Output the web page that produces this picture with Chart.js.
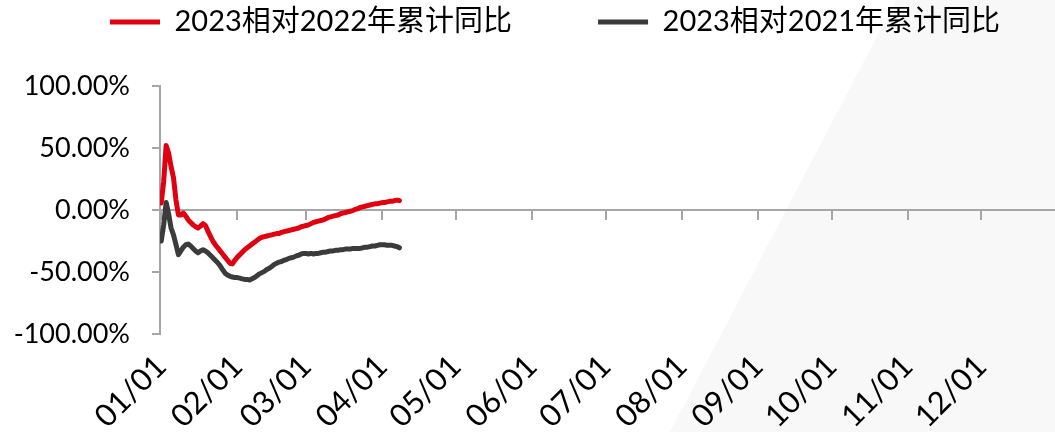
<!DOCTYPE html>
<html>
<head>
<meta charset="utf-8">
<script src="https://cdn.jsdelivr.net/npm/chart.js@4/dist/chart.umd.min.js"></script>
<style>
  html, body { margin: 0; padding: 0; background: #fff; }
  #wrap { width: 1055px; height: 432px; position: relative; }
  #fontwarm { position: absolute; left: -9999px; top: 0; font: 27px Lato, "Noto Sans CJK SC", sans-serif; }
</style>
</head>
<body>
<div id="wrap"><canvas id="ytdChart"></canvas></div>
<span id="fontwarm">-100.00% 01/01 2023相对2022年累计同比</span>
<script>
// series names
const seriesNames = ['2023相对2022年累计同比', '2023相对2021年累计同比'];

// month ticks (day of year) and their labels
const monthStarts = [0, 31, 59, 90, 120, 151, 181, 212, 243, 273, 304, 334];
const monthLabels = ['01/01', '02/01', '03/01', '04/01', '05/01', '06/01',
                     '07/01', '08/01', '09/01', '10/01', '11/01', '12/01'];

// y ticks, percent
const yTicks = [-100, -50, 0, 50, 100];

// daily values from 01/01, in %
const vs2022 = [
    5.6, 23, 52, 46, 35, 26, 8, -4, -4, -2.5,
    -5, -8, -10, -12, -13.5, -14.5, -13, -11, -12.5, -17,
    -21, -25, -28, -30.5, -33, -35.5, -38, -40.5, -43, -43.5,
    -40.5, -38, -36, -34, -32, -30.5, -29, -27.5, -26, -24.5,
    -23, -22, -21.5, -21, -20.5, -20, -19.5, -19, -19, -18,
    -17.5, -17, -16.5, -16, -15.5, -15, -14.5, -13.5, -13, -12.5,
    -12, -11, -10, -9.5, -9, -8.5, -8, -7, -6, -5.5,
    -5, -4.5, -4, -3, -2.5, -2, -1.5, -1, -0.5, 0.5,
    1, 2, 2.5, 3, 3.5, 4, 4.5, 5, 5, 5.5,
    6, 6, 6.5, 7, 7, 7.5, 8, 7.5
];
const vs2021 = [
    -25, -12, 6, -3, -14.5, -20, -28, -36, -33, -30,
    -28, -27.5, -29, -31, -33, -34.5, -33, -32, -33, -34.5,
    -36.5, -38.5, -40.5, -42.5, -45, -48, -51, -52.5, -53.5, -54,
    -54.5, -54.5, -55, -55.5, -56, -56, -56.5, -55.5, -54.5, -53,
    -51.5, -50.5, -49.5, -48, -47, -45.5, -44, -43, -42, -41.5,
    -40.5, -40, -39, -38.5, -38, -37, -36.5, -35.5, -35, -35,
    -35.5, -35, -35.5, -35, -35, -34.5, -34, -34, -33.5, -33,
    -33, -32.5, -32.5, -32, -32, -31.5, -31.5, -31.5, -31, -31,
    -31, -31, -30.5, -30, -30, -29.5, -29, -29, -28.5, -28,
    -28, -28, -28.5, -28.5, -28.5, -29, -29.5, -30.5
];

const RED = '#e0000f';
const DARK = '#3b3b3b';
const AXIS = '#a6a6a6';
const FONT = 'Lato, "Noto Sans CJK SC", sans-serif';

function toPoints(values) {
    return values.map((v, i) => ({ x: i, y: v }));
}

function setMonthTicks(scale) {
    scale.ticks = monthStarts.map(v => ({ value: v }));
}

// faint diagonal panel on the right of the picture
const backdrop = {
    id: 'backdrop',
    beforeDraw(chart) {
        const ctx = chart.ctx;
        ctx.save();
        ctx.fillStyle = '#f8f8f8';
        ctx.beginPath();
        ctx.moveTo(896, 0);
        ctx.lineTo(chart.width, 0);
        ctx.lineTo(chart.width, chart.height);
        ctx.lineTo(670, chart.height);
        ctx.closePath();
        ctx.fill();
        ctx.restore();
    }
};

// legend: one row with wide gaps, chart area starting lower
const legendSpacer = {
    id: 'legendSpacer',
    beforeInit(chart) {
        const fit = chart.legend.fit;
        chart.legend.fit = function () {
            const mw = this.maxWidth;
            this.maxWidth = 4000;
            fit.call(this);
            this.maxWidth = mw;
            this.width = mw;
            this.height = 164.5;
        };
    },
    afterLayout(chart) {
        chart.legend.left = 24;
        chart.legend.right = 3000;
    }
};

function drawChart() {
    Chart.defaults.font.family = FONT;
    Chart.defaults.color = '#000';

    const ctx = document.getElementById('ytdChart').getContext('2d');
    return new Chart(ctx, {
        type: 'line',
        data: {
            datasets: [
                {
                    label: seriesNames[0],
                    data: toPoints(vs2022),
                    borderColor: RED,
                    backgroundColor: RED,
                    borderWidth: 5,
                    borderCapStyle: 'round',
                    borderJoinStyle: 'round',
                    pointRadius: 0,
                    tension: 0,
                    xAxisID: 'x'
                },
                {
                    label: seriesNames[1],
                    data: toPoints(vs2021),
                    borderColor: DARK,
                    backgroundColor: DARK,
                    borderWidth: 5,
                    borderCapStyle: 'round',
                    borderJoinStyle: 'round',
                    pointRadius: 0,
                    tension: 0,
                    xAxisID: 'x'
                }
            ]
        },
        options: {
            responsive: true,
            maintainAspectRatio: false,
            animation: false,
            layout: { padding: { top: -78.5, left: 8, right: 0, bottom: 0 } },
            scales: {
                x: {
                    type: 'linear',
                    position: 'bottom',
                    min: -0.5,
                    max: 364,
                    afterBuildTicks: setMonthTicks,
                    afterFit: (scale) => { scale.height = 98; },
                    grid: { display: false, drawTicks: false },
                    border: { display: false },
                    ticks: {
                        autoSkip: false,
                        minRotation: 45,
                        maxRotation: 45,
                        padding: 14,
                        font: { size: 31 },
                        color: '#000',
                        callback: (v, i) => monthLabels[i]
                    }
                },
                x0: {
                    type: 'linear',
                    position: { y: 0 },
                    min: -0.5,
                    max: 364,
                    afterBuildTicks: setMonthTicks,
                    grid: { drawOnChartArea: false, drawTicks: true, tickLength: 9, color: AXIS, lineWidth: 2 },
                    border: { display: true, color: AXIS, width: 2 },
                    ticks: { display: false }
                },
                y: {
                    min: -100,
                    max: 100,
                    afterBuildTicks: (scale) => { scale.ticks = yTicks.map(v => ({ value: v })); },
                    afterFit: (scale) => { scale.width = 152; },
                    grid: { drawOnChartArea: false, drawTicks: true, tickLength: 8, color: AXIS, lineWidth: 2 },
                    border: { display: true, color: AXIS, width: 2 },
                    ticks: {
                        padding: 22,
                        font: { size: 27 },
                        color: '#000',
                        callback: (v) => v.toFixed(2) + '%'
                    }
                }
            },
            plugins: {
                legend: {
                    display: true,
                    position: 'top',
                    align: 'start',
                    labels: {
                        usePointStyle: true,
                        pointStyle: 'line',
                        pointStyleWidth: 50,
                        padding: 86,
                        color: '#000',
                        font: { size: 29 }
                    }
                },
                tooltip: { enabled: false }
            }
        },
        plugins: [backdrop, legendSpacer]
    });
}

let ytdChart = null;
Promise.all([
    document.fonts.load('27px Lato', '0123456789.%/-'),
    document.fonts.load('29px "Noto Sans CJK SC"', '相对年累计同比')
]).catch(() => null).then(() => { ytdChart = drawChart(); });
</script>
</body>
</html>
